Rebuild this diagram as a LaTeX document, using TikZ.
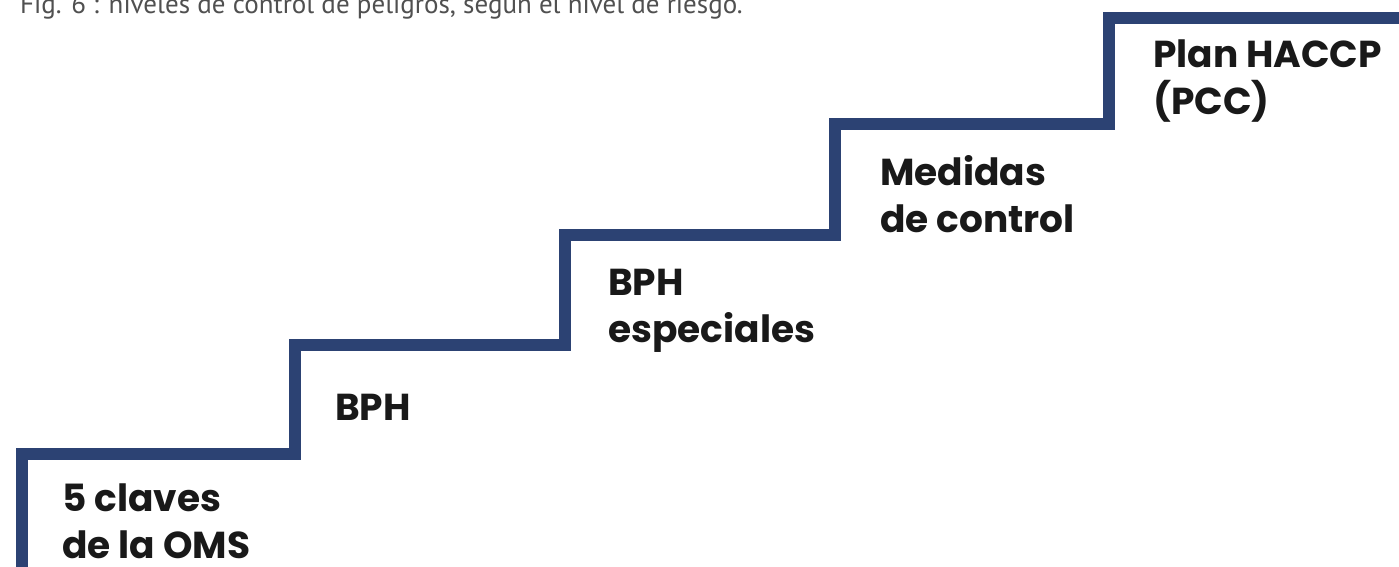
\documentclass[tikz,border=0pt]{standalone}
\usepackage{fontspec}
\setmainfont{Poppins}
\newfontfamily\capfont{PT Sans}
\definecolor{stairblue}{RGB}{44,66,115}
\definecolor{capgray}{RGB}{80,80,80}
\begin{document}
\begin{tikzpicture}[x=1pt,y=-1pt,
  stairline/.style={draw=stairblue,line width=12pt,line join=miter,line cap=butt},
  steplabel/.style={anchor=base west,inner sep=0pt,align=left,
    font=\bfseries\fontsize{37.5}{47}\selectfont,text=black!90},
  captext/.style={anchor=base west,inner sep=0pt,
    font=\capfont\fontsize{27}{30}\selectfont,text=capgray}]
\useasboundingbox (0,0) rectangle (1399,567);
\clip (0,0) rectangle (1399,567);
\fill[white] (0,0) rectangle (1399,567);
\node[captext] (cap) at (20,14) {Fig. 6 : niveles de control de peligros, según el nivel de riesgo.};
\coordinate (s0) at (22,580);
\coordinate (s1) at (22,454);
\coordinate (s2) at (295,454);
\coordinate (s3) at (295,345);
\coordinate (s4) at (565,345);
\coordinate (s5) at (565,235);
\coordinate (s6) at (835,235);
\coordinate (s7) at (835,124);
\coordinate (s8) at (1109,124);
\coordinate (s9) at (1109,18);
\coordinate (s10) at (1410,18);
\draw[stairline] (s0) -- (s1) -- (s2) -- (s3) -- (s4) -- (s5) -- (s6) -- (s7) -- (s8) -- (s9) -- (s10);
% base anchor of a multi-line node is the baseline of its last line
\node[steplabel] (l1) at (62,558) {5 claves\\de la OMS};
\node[steplabel] (l2) at (335,420) {BPH};
\node[steplabel] (l3) at (608,342) {BPH\\especiales};
\node[steplabel] (l4) at (880,232) {Medidas\\de control};
\node[steplabel] (l5) at (1153,114) {Plan HACCP\\(PCC)};
\end{tikzpicture}
\end{document}
